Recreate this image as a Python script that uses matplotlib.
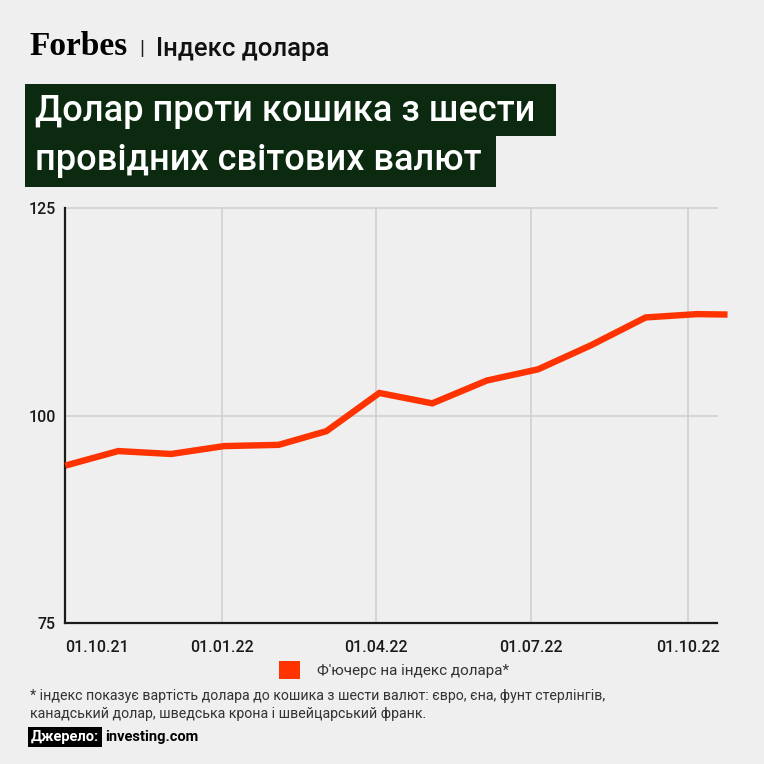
import matplotlib
matplotlib.use("Agg")
import matplotlib.pyplot as plt
from matplotlib.patches import Rectangle, Patch
import pandas as pd

# ---- data ----
dates = ["2021-10-01", "2021-11-01", "2021-12-02", "2022-01-02", "2022-02-03",
         "2022-03-03", "2022-04-03", "2022-05-04", "2022-06-05", "2022-07-05",
         "2022-08-05", "2022-09-06", "2022-10-06", "2022-10-24"]
values = [94.0, 95.75, 95.4, 96.35, 96.5, 98.15, 102.75, 101.5, 104.25, 105.6,
          108.5, 111.85, 112.25, 112.2]
xtick_dates = ["2021-10-01", "2022-01-01", "2022-04-01", "2022-07-01", "2022-10-01"]
xtick_labels = ["01.10.21", "01.01.22", "01.04.22", "01.07.22", "01.10.22"]
yticks = [75, 100, 125]
series_label = "Ф'ючерс на індекс долара*"
header_title = "Індекс долара"
title_lines = ["Долар проти кошика з шести", "провідних світових валют"]
footnote = ("* індекс показує вартість долара до кошика з шести валют: євро, єна, фунт стерлінгів,\n"
            "канадський долар, шведська крона і швейцарський франк.")
source_label = "Джерело:"
source_value = "investing.com"

BG = "#efefef"
GREEN = "#0b2a10"
RED = "#ff3300"
W = H = 764

plt.rcParams['font.family'] = ['Roboto', 'DejaVu Sans']

fig = plt.figure(figsize=(7.64, 7.64), dpi=100, facecolor=BG)


def fx(px):
    return px / W


def fy(py):
    return 1 - py / H


# ---- header ----
fig.text(fx(29), fy(55), "Forbes", family=['Liberation Serif'], weight='bold',
         fontsize=24, color='black', va='baseline', ha='left')
fig.text(fx(142), fy(55), "|", fontsize=15, color='#222222', va='baseline', ha='center')
fig.text(fx(156), fy(56), header_title, fontsize=18.5, weight='medium',
         color='#111111', va='baseline', ha='left')

# title boxes
fig.patches.append(Rectangle((fx(25), fy(136)), fx(556 - 25), (136 - 84) / H,
                             transform=fig.transFigure, facecolor=GREEN, edgecolor='none'))
fig.patches.append(Rectangle((fx(25), fy(187)), fx(496 - 25), (187 - 135) / H,
                             transform=fig.transFigure, facecolor=GREEN, edgecolor='none'))
fig.text(fx(35), fy(121), title_lines[0], fontsize=26, weight='medium', color='white',
         va='baseline', ha='left')
fig.text(fx(35), fy(170), title_lines[1], fontsize=26, weight='medium', color='white',
         va='baseline', ha='left')

# ---- axes ----
ax = fig.add_axes([fx(65.3), fy(623.3), fx(717.3 - 65.3), (623.3 - 208.3) / H])
ax.set_facecolor(BG)
x = pd.to_datetime(dates)
ax.plot(x, values, color=RED, lw=4.6, solid_capstyle='butt', solid_joinstyle='miter',
        clip_on=False, zorder=5)

ax.set_xlim(pd.Timestamp("2021-10-01"), pd.Timestamp("2022-10-18"))
ax.set_ylim(75, 125)
ax.set_xticks(pd.to_datetime(xtick_dates))
ax.set_xticklabels(xtick_labels)
ax.set_yticks(yticks)
ax.set_yticklabels([str(v) for v in yticks])
ax.tick_params(axis='both', length=0, labelsize=11.5, labelcolor='#1a1a1a')
ax.tick_params(axis='x', pad=12)
ax.tick_params(axis='y', pad=7)
for lbl in ax.get_xticklabels() + ax.get_yticklabels():
    lbl.set_fontweight('medium')
ax.get_xticklabels()[0].set_horizontalalignment('left')
ax.get_xticklabels()[0].set_x(pd.Timestamp("2021-09-30"))

ax.grid(True, color='#d0d0d0', lw=1.2)
for gl in ax.get_ygridlines() + ax.get_xgridlines():
    gl.set_clip_on(False)
for s in ['top', 'right']:
    ax.spines[s].set_visible(False)
for s in ['left', 'bottom']:
    ax.spines[s].set_color('#1a1a1a')
    ax.spines[s].set_linewidth(1.6)
ax.set_axisbelow(True)

# ---- legend ----
fig.legend(handles=[Patch(facecolor=RED, edgecolor='none')], labels=[series_label],
           loc='center', bbox_to_anchor=(fx(394), fy(670)), frameon=False,
           fontsize=11, handlelength=1.4, handleheight=1.4, handletextpad=1.1,
           labelcolor='#333333')

# ---- footnote & source ----
fig.text(fx(30), fy(705), footnote, fontsize=10.2, color='#333333', va='center',
         ha='left', linespacing=1.45)
fig.text(fx(31), fy(737), source_label, fontsize=10.5, weight='bold', color='white',
         va='center', ha='left',
         bbox=dict(boxstyle='square,pad=0.18', facecolor='black', edgecolor='none'))
fig.text(fx(105), fy(737), source_value, fontsize=10.5, weight='bold', color='black',
         va='center', ha='left')

fig.savefig("out.png", dpi=100, facecolor=BG)
